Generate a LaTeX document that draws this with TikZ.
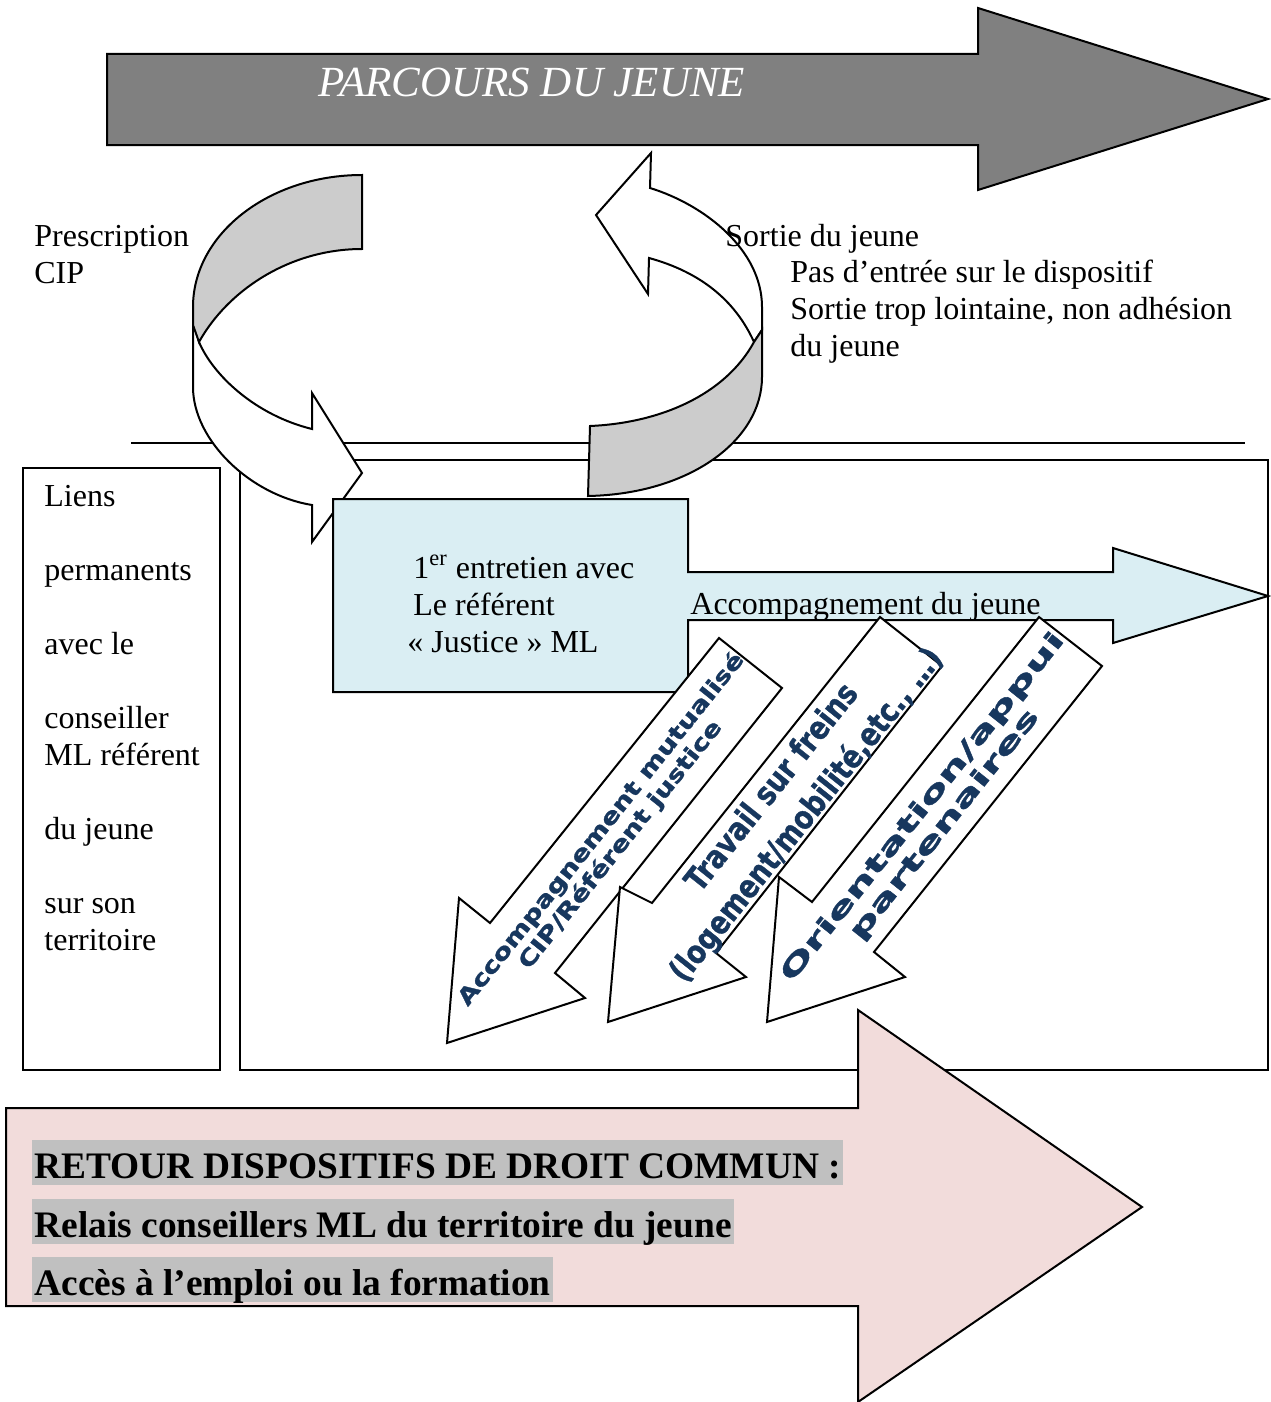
\documentclass[tikz,border=0pt]{standalone}
\usepackage{fontspec}
\setmainfont{Liberation Serif}
\newfontfamily\wordart[BoldFeatures={FakeBold=1.2}]{DejaVu Sans}
\usepackage{graphicx}

\definecolor{titlegray}{HTML}{808080}
\definecolor{bandgray}{HTML}{CCCCCC}
\definecolor{entryblue}{HTML}{DAEEF3}
\definecolor{returnpink}{HTML}{F2DCDB}
\definecolor{markgray}{HTML}{C0C0C0}
\definecolor{artblue}{HTML}{17375E}

\tikzset{
    outline/.style={draw=black, line width=1pt},
    body text/.style={inner sep=0pt, anchor=base west, font=\fontsize{16}{18.5}\selectfont},
    art text/.style={inner sep=0pt, text=artblue, rotate=51.4},
    mark text/.style={inner xsep=1pt, inner ysep=0pt, fill=markgray, anchor=base west,
        text height=19pt, text depth=3.5pt, font=\fontsize{18.7}{22}\selectfont\bfseries}
}
\newcommand{\stack}[1]{\begin{tabular}[t]{@{}l@{}}#1\end{tabular}}
\newcommand{\artlines}[2]{\scalebox{#1}[1]{\begin{tabular}{@{}c@{}}#2\end{tabular}}}

\begin{document}
\begin{tikzpicture}[x=0.5pt, y=-0.5pt]
        \useasboundingbox (0,0) rectangle (1270,1402);
        % parcours du jeune
        \filldraw[outline, fill=titlegray] (107,54) -- (978,54) -- (978,8) -- (1268,99) -- (978,190) -- (978,145) -- (107,145) -- cycle;
        \node[inner sep=0pt, anchor=base west, text=white, font=\fontsize{21.5}{25}\selectfont\itshape] (titre) at (318,97) {PARCOURS DU JEUNE};

        \draw[outline] (131,443) -- (1245,443);
        \draw[outline] (23,468) rectangle (220,1070);
        \draw[outline] (240,460) rectangle (1268,1070);

        % entree / sortie
        \filldraw[outline, fill=white] (193,320) -- (193,387) .. controls (193,440) and (250,495) .. (312,505) -- (312,542) -- (362,473) -- (312,393) -- (312,429) .. controls (255,415) and (213,375) .. (199,342) -- cycle;
        \filldraw[outline, fill=bandgray] (362,175) .. controls (269,175) and (193,234) .. (193,307) -- (193,325) -- (199,342) .. controls (228,290) and (290,249) .. (362,249) -- cycle;
        \filldraw[outline, fill=white] (651,153) -- (650,188) .. controls (705,205) and (762,250) .. (762,307) -- (762,330) -- (754,342) .. controls (735,300) and (700,272) .. (649,258) -- (648,294) -- (596,215) -- cycle;
        \filldraw[outline, fill=bandgray] (754,342) .. controls (725,395) and (660,423) .. (590,426) -- (588,496) .. controls (690,494) and (762,440) .. (762,377) -- (762,330) -- cycle;

        \filldraw[outline, fill=entryblue] (333,499) -- (688,499) -- (688,572) -- (1113,572) -- (1113,548) -- (1268,596) -- (1113,643) -- (1113,620) -- (688,620) -- (688,692) -- (333,692) -- cycle;

        % axes d'accompagnement
        \filldraw[outline, fill=white] (719,638) -- (782,688) -- (555,973) -- (585,998) -- (447,1043) -- (459,898) -- (490,923) -- cycle;
        \filldraw[outline, fill=white] (880,617) -- (942,666) -- (716,953) -- (746,977) -- (608,1022) -- (620,887) -- (652,903) -- cycle;
        \filldraw[outline, fill=white] (1039,617) -- (1102,666) -- (874,952) -- (905,977) -- (767,1022) -- (779,877) -- (812,902) -- cycle;

        \filldraw[outline, fill=returnpink] (6,1108) -- (858,1108) -- (858,1010) -- (1142,1207) -- (858,1402) -- (858,1306) -- (6,1306) -- cycle;

        % textes
        \node[body text] (prescription) at (34,246) {\stack{Prescription\\CIP}};
        \node[body text] (sortie) at (725,246) {Sortie du jeune};
        \node[body text] (motifs) at (790,282) {\stack{Pas d’entrée sur le dispositif\\Sortie trop lointaine, non adhésion\\du jeune}};
        \node[body text] (liens) at (44,506) {\stack{Liens\\[18.5pt]permanents\\[18.5pt]avec le\\[18.5pt]conseiller\\ML référent\\[18.5pt]du jeune\\[18.5pt]sur son\\territoire}};
        \node[body text] (entretien) at (413,578) {\stack{1\textsuperscript{er} entretien avec\\Le référent\\\hspace*{-3pt}« Justice » ML}};
        \node[body text] (accomp) at (690,614) {Accompagnement du jeune};

        \node[art text, font=\wordart\bfseries\fontsize{11}{12}\selectfont] (mutualise) at (612,838) {\artlines{1.26}{Accompagnement mutualisé\\CIP/Référent justice}};
        \node[art text, font=\wordart\bfseries\fontsize{16}{22}\selectfont] (freins) at (790,802) {\artlines{0.84}{Travail sur freins\\(logement/mobilité,etc., …)}};
        \node[art text, font=\wordart\bfseries\fontsize{12.5}{14}\selectfont] (orientation) at (935,817) {\artlines{1.76}{Orientation/appui\\partenaires}};

        \node[mark text] (retour) at (32,1178) {RETOUR DISPOSITIFS DE DROIT COMMUN :};
        \node[mark text] (relais) at (32,1237) {Relais conseillers ML du territoire du jeune};
        \node[mark text] (acces) at (32,1295) {Accès à l’emploi ou la formation};
\end{tikzpicture}
\end{document}
